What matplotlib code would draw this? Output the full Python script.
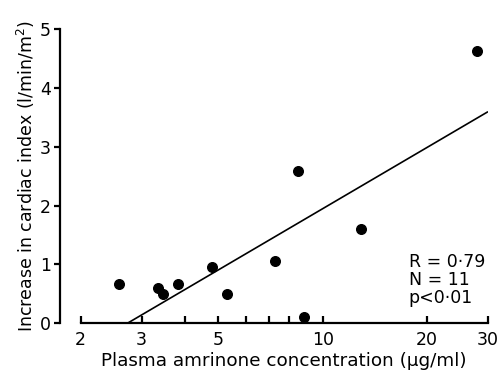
import numpy as np
import matplotlib.pyplot as plt

# plasma amrinone (ug/ml) vs increase in cardiac index (l/min/m2)
conc = [2.59, 3.34, 3.46, 3.82, 4.80, 5.28, 7.26, 8.47, 8.85, 12.9, 27.9]
delta_ci = [0.66, 0.59, 0.49, 0.66, 0.96, 0.49, 1.05, 2.59, 0.11, 1.60, 4.64]

# regression line end points (log x)
fit_x = [2.74, 30.0]
fit_y = [0.0, 3.6]

xticks = [2, 3, 4, 5, 6, 7, 8, 9, 10, 20, 30]
xticklabels = ['2', '3', '', '5', '', '', '', '', '10', '20', '30']
yticks = [0, 1, 2, 3, 4, 5]

plt.rcParams['font.family'] = 'DejaVu Sans'

fig = plt.figure(figsize=(5.01, 3.77), dpi=100)
ax = fig.add_axes([80.5 / 501, 54 / 377, (488 - 80.5) / 501, (323 - 29.5) / 377])

ax.plot(fit_x, fit_y, color='black', lw=1.2, solid_capstyle='butt')
ax.scatter(conc, delta_ci, s=48, color='black', zorder=3, clip_on=False)

ax.set_xscale('log')
ax.set_xlim(2, 30)
ax.set_ylim(0, 5)
ax.set_xticks(xticks)
ax.set_xticklabels(xticklabels)
ax.xaxis.set_minor_locator(plt.NullLocator())
ax.set_yticks(yticks)

for s in ['top', 'right']:
    ax.spines[s].set_visible(False)
ax.spines['left'].set_position(('outward', 14.8))
for s in ['left', 'bottom']:
    ax.spines[s].set_linewidth(1.6)

ax.tick_params(axis='x', direction='in', length=5, width=1.6, labelsize=12.5, pad=6)
ax.tick_params(axis='y', direction='out', length=4.5, width=1.6, labelsize=12.5, pad=2)

ax.set_xlabel('Plasma amrinone concentration (\u00b5g/ml)', fontsize=13.2, labelpad=2)
ax.set_ylabel('Increase in cardiac index (l/min/m$^2$)', fontsize=12.5, labelpad=2)

ax.text(0.805, 0.055, 'R = 0\u00b779\nN = 11\np<0\u00b701', transform=ax.transAxes,
        fontsize=12.5, ha='left', va='bottom', linespacing=1.0)

fig.savefig('out.png', dpi=100)
